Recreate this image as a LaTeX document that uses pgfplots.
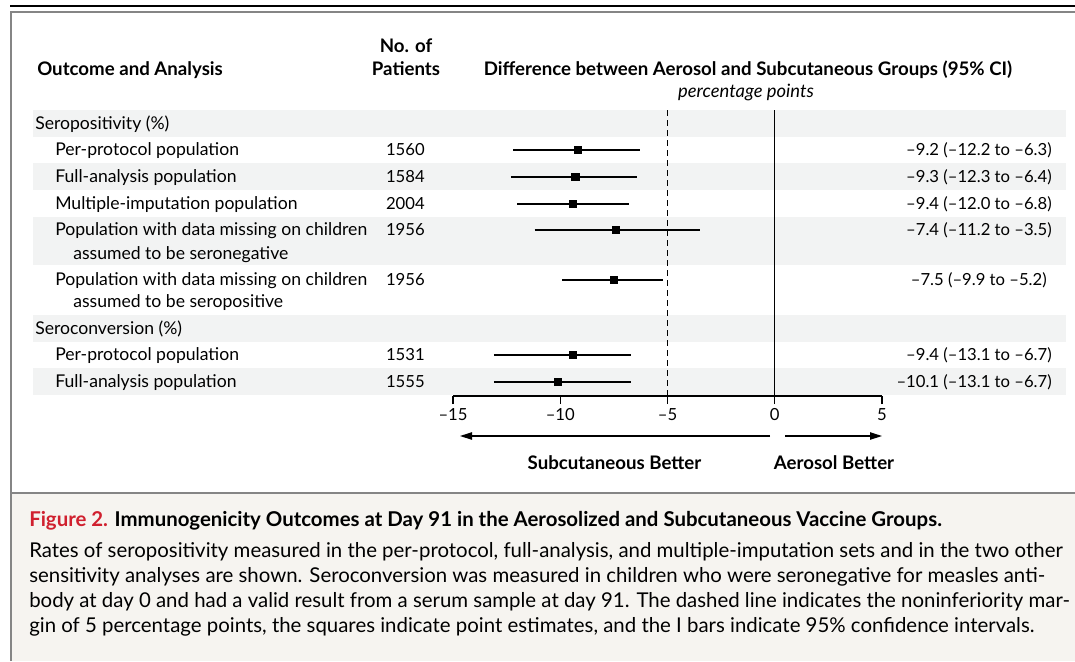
\documentclass[border=0pt]{standalone}
\usepackage{fontspec}
\setmainfont{Lato}
\usepackage{pgfplots}
\pgfplotsset{compat=1.18}
\usetikzlibrary{arrows.meta}
\definecolor{band}{HTML}{F2F3F3}
\definecolor{capbg}{HTML}{F6F4F0}
\definecolor{nejmred}{HTML}{D0202F}
\definecolor{framegray}{HTML}{858585}
\newcommand\rs{\fontsize{13.2}{15}\selectfont}
\newcommand\ns{\fontsize{12.5}{15}\selectfont}
\newcommand\hs{\fontsize{14}{16}\selectfont}
\newcommand\cs{\fontsize{15.3}{18}\selectfont}
\begin{document}
\begin{tikzpicture}[x=0.75pt,y=-0.75pt]
\useasboundingbox (0,0) rectangle (1075,661);
\clip (0,0) rectangle (1075,661);
\fill[white] (0,0) rectangle (1075,661);
\fill[capbg] (11,493) rectangle (1075,661);
\foreach \a/\b in {110/137,163/190,217/265,315/342,368/395}
  \fill[band] (33,\a) rectangle (1066,\b);
\draw[black, line width=1.5pt] (10,5.5) -- (1075,5.5);
\draw[framegray, line width=1.5pt] (11,661) -- (11,12) -- (1075,12);
\draw[framegray, line width=1.5pt] (11,493) -- (1075,493);

% headers
\node[anchor=base west, inner sep=0] at (37,75) {\hs\bfseries Outcome and Analysis};
\node[anchor=base, inner sep=0] at (406,52) {\hs\bfseries No. of};
\node[anchor=base, inner sep=0] at (406,75) {\hs\bfseries Patients};
\node[anchor=base, inner sep=0] at (748,75) {\hs\bfseries Difference between Aerosol and Subcutaneous Groups (95\% CI)};
\node[anchor=base, inner sep=0] at (746,97) {\fontsize{13.8}{16}\selectfont\itshape percentage points};

% row labels
\node[anchor=base west, inner sep=0] at (35,129) {\rs Seropositivity (\%)};
\node[anchor=base west, inner sep=0] at (55,155.5) {\rs Per-protocol population};
\node[anchor=base west, inner sep=0] at (55,182.5) {\rs Full-analysis population};
\node[anchor=base west, inner sep=0] at (55,209) {\rs Multiple-imputation population};
\node[anchor=base west, inner sep=0] at (55,235.5) {\rs Population with data missing on children};
\node[anchor=base west, inner sep=0] at (73,259.5) {\rs assumed to be seronegative};
\node[anchor=base west, inner sep=0] at (55,285.5) {\rs Population with data missing on children};
\node[anchor=base west, inner sep=0] at (73,307.5) {\rs assumed to be seropositive};
\node[anchor=base west, inner sep=0] at (35,334) {\rs Seroconversion (\%)};
\node[anchor=base west, inner sep=0] at (55,360.5) {\rs Per-protocol population};
\node[anchor=base west, inner sep=0] at (55,387.5) {\rs Full-analysis population};

% patients
\foreach \y/\n in {155.5/1560,182.5/1584,209/2004,235.5/1956,285.5/1956,360.5/1531,387.5/1555}
  \node[anchor=base east, inner sep=0] at (425,\y) {\ns \n};

% estimates text
\node[anchor=base east, inner sep=0] at (1052,155.5) {\ns –9.2 (–12.2 to –6.3)};
\node[anchor=base east, inner sep=0] at (1052,182.5) {\ns –9.3 (–12.3 to –6.4)};
\node[anchor=base east, inner sep=0] at (1052,209) {\ns –9.4 (–12.0 to –6.8)};
\node[anchor=base east, inner sep=0] at (1052,235.5) {\ns –7.4 (–11.2 to –3.5)};
\node[anchor=base east, inner sep=0] at (1047,285.5) {\ns –7.5 (–9.9 to –5.2)};
\node[anchor=base east, inner sep=0] at (1052,360.5) {\ns –9.4 (–13.1 to –6.7)};
\node[anchor=base east, inner sep=0] at (1052,387.5) {\ns –10.1 (–13.1 to –6.7)};

% arrows
\draw[-{Triangle[length=9pt,width=5.5pt]}, line width=1pt] (770,436) -- (460,436);
\draw[-{Triangle[length=9pt,width=5.5pt]}, line width=1pt] (785,436) -- (882,436);
\node[anchor=base, inner sep=0] at (614.5,469) {\hs\bfseries Subcutaneous Better};
\node[anchor=base, inner sep=0] at (834,469) {\hs\bfseries Aerosol Better};

% caption
\node[anchor=base west, inner sep=0] at (29,526) {\cs\bfseries\textcolor{nejmred}{Figure 2.} Immunogenicity Outcomes at Day 91 in the Aerosolized and Subcutaneous Vaccine Groups.};
\node[anchor=base west, inner sep=0] at (29,557) {\cs Rates of seropositivity measured in the per-protocol, full-analysis, and multiple-imputation sets and in the two other};
\node[anchor=base west, inner sep=0] at (29,582) {\cs sensitivity analyses are shown. Seroconversion was measured in children who were seronegative for measles anti-};
\node[anchor=base west, inner sep=0] at (29,607) {\cs body at day 0 and had a valid result from a serum sample at day 91. The dashed line indicates the noninferiority mar-};
\node[anchor=base west, inner sep=0] at (29,632) {\cs gin of 5 percentage points, the squares indicate point estimates, and the I bars indicate 95\% confidence intervals.};

\begin{scope}[x=1cm,y=1cm]
\begin{axis}[
  at={(339.75pt,-297pt)}, anchor=south west,
  scale only axis, width=321.75pt, height=214.5pt,
  xmin=-15, xmax=5, ymin=-396, ymax=-110,
  axis x line=bottom, axis y line=none,
  x axis line style={-, line width=1pt},
  xtick={-15,-10,-5,0,5},
  xticklabels={–15,–10,–5,0,5},
  xtick align=outside,
  major tick length=6pt,
  tick style={black, line width=1pt},
  ytick=\empty,
  clip=false,
  tick label style={font=\ns},
]
\addplot[black, line width=0.9pt, dash pattern=on 4.5pt off 3pt] coordinates {(-5,-110) (-5,-396)};
\addplot[black, line width=0.9pt] coordinates {(0,-110) (0,-396)};
% CIs
\addplot[black, line width=1.5pt] coordinates {(-12.2,-150) (-6.3,-150)};
\addplot[black, line width=1.5pt] coordinates {(-12.3,-177) (-6.4,-177)};
\addplot[black, line width=1.5pt] coordinates {(-12.0,-204) (-6.8,-204)};
\addplot[black, line width=1.5pt] coordinates {(-11.2,-230) (-3.5,-230)};
\addplot[black, line width=1.5pt] coordinates {(-9.9,-280) (-5.2,-280)};
\addplot[black, line width=1.5pt] coordinates {(-13.1,-355) (-6.7,-355)};
\addplot[black, line width=1.5pt] coordinates {(-13.1,-382) (-6.7,-382)};
% point estimates
\addplot[only marks, mark=square*, mark size=2.7pt, black] coordinates {
  (-9.2,-150) (-9.3,-177) (-9.4,-204) (-7.4,-230) (-7.5,-280) (-9.4,-355) (-10.1,-382)};
\end{axis}
\end{scope}
\end{tikzpicture}
\end{document}
